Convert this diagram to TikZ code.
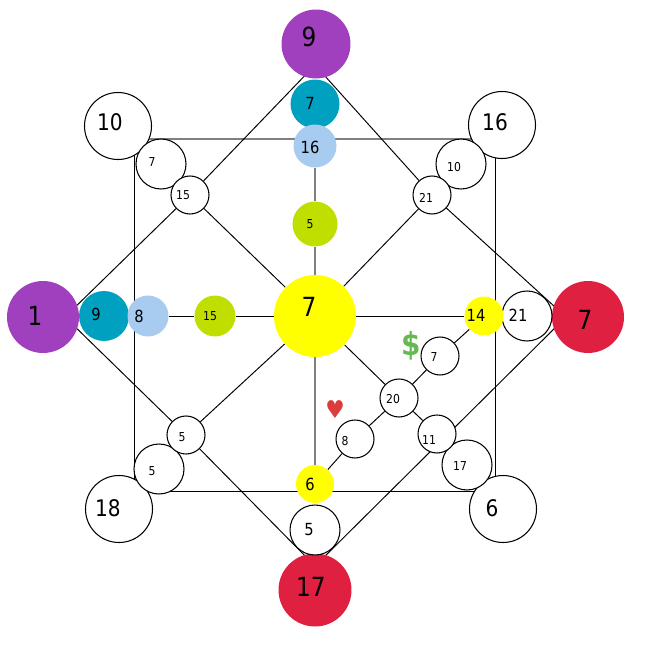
\documentclass[tikz,border=0pt]{standalone}
\usepackage{fontspec}
\setmainfont[FakeStretch=0.88]{DejaVu Sans}
\usetikzlibrary{backgrounds}
\definecolor{ppurple}{RGB}{160,64,190}
\definecolor{rred}{RGB}{224,32,64}
\definecolor{tteal}{RGB}{0,160,192}
\definecolor{lblue}{RGB}{168,203,240}
\definecolor{lgreen}{RGB}{192,223,0}
\definecolor{yy}{RGB}{255,255,0}
\definecolor{dgreen}{RGB}{100,185,80}
\definecolor{hred}{RGB}{220,60,60}
\newcommand{\fa}{\fontsize{15}{15}\selectfont}
\newcommand{\fb}{\fontsize{13}{13}\selectfont}
\newcommand{\fc}{\fontsize{9.5}{10}\selectfont}
\newcommand{\fd}{\fontsize{7}{8}\selectfont}

\begin{document}
\begin{tikzpicture}[
  x=0.02cm,y=-0.02cm,
  wnode/.style={circle,draw,line width=0.6pt,fill=white,inner sep=0pt,minimum size=#1*0.02cm},
  cnode/.style={circle,fill=#1,inner sep=0pt},
  lab/.style n args={4}{label={[xshift=#1*0.02cm,yshift=-#2*0.02cm,font=#3]center:#4}},
  gline/.style={line width=0.6pt,gray},
  bline/.style={line width=0.55pt,black}
]
  \useasboundingbox (0,0) rectangle (670,672);

  % === Outer ring ===
  \node[cnode=ppurple,minimum size=1.38cm,lab={-7}{-7}{\fa}{9}] (ptop) at (316,44) {};
  \node[cnode=ppurple,minimum size=1.44cm,lab={-8}{-1}{\fa}{1}] (pleft) at (43,317) {};
  \node[cnode=rred,minimum size=1.44cm,lab={-3}{3}{\fa}{7}] (rright) at (588,317) {};
  \node[cnode=rred,minimum size=1.46cm,lab={-4}{-3}{\fa}{17}] (rbot) at (315,590) {};

  \node[wnode=67,lab={-8}{-4}{\fb}{10}] (c10) at (118,126) {};
  \node[wnode=67,lab={-7}{-3}{\fb}{16}] (c16) at (502,125) {};
  \node[wnode=67,lab={-11}{-1}{\fb}{18}] (c18) at (119,509) {};
  \node[wnode=67,lab={-11}{-1}{\fb}{6}] (c6) at (503,509) {};

  % === Second ring ===
  \node[cnode=tteal,minimum size=0.98cm,lab={-5}{-1}{\fc}{7}] (ttop) at (315,104) {};
  \node[cnode=tteal,minimum size=1cm,lab={-8}{-2}{\fc}{9}] (tleft) at (104,316) {};
  \node[wnode=50,lab={-9}{-1}{\fc}{21}] (w21) at (527,316) {};
  \node[wnode=50,lab={-6}{0}{\fc}{5}] (w5) at (315,530) {};
  \node[wnode=50,lab={-9}{-2}{\fd}{7}] (s7) at (161,164) {};
  \node[wnode=50,lab={-7}{3}{\fd}{10}] (s10) at (461,164) {};
  \node[wnode=50,lab={-7}{2}{\fd}{5}] (s5) at (159,469) {};
  \node[wnode=50,lab={-7}{1}{\fd}{17}] (s17) at (467,465) {};

  % === Inner nodes ===
  \node[cnode=lblue,minimum size=0.86cm,lab={-5}{1}{\fc}{16}] (btop) at (315,146) {};
  \node[cnode=lblue,minimum size=0.82cm,lab={-9}{0}{\fc}{8}] (bleft) at (148,316) {};
  \node[cnode=lgreen,minimum size=0.9cm,lab={-5}{0}{\fd}{5}] (gtop) at (315,224) {};
  \node[cnode=lgreen,minimum size=0.82cm,lab={-5}{0}{\fd}{15}] (gleft) at (215,316) {};
  \node[cnode=yy,minimum size=1.64cm,lab={-6}{-9}{\fa}{7}] (mid) at (315,316) {};
  \node[cnode=yy,minimum size=0.78cm,lab={-8}{-1}{\fc}{14}] (yright) at (484,316) {};
  \node[cnode=yy,minimum size=0.76cm,lab={-5}{0}{\fc}{6}] (ybot) at (315,484) {};

  \node[wnode=38,lab={-7}{0}{\fd}{15}] (d15) at (190,195) {};
  \node[wnode=38,lab={-6}{3}{\fd}{21}] (d21) at (432,195) {};
  \node[wnode=38,lab={-4}{2}{\fd}{5}] (d5) at (186,435) {};
  \node[wnode=38,lab={-8}{6}{\fd}{11}] (d11) at (437,434) {};
  \node[wnode=38,lab={-6}{1}{\fd}{7}] (e7) at (440,356) {};
  \node[wnode=38,lab={-6}{1}{\fd}{20}] (e20) at (399,398) {};
  \node[wnode=38,lab={-10}{2}{\fd}{8}] (e8) at (355,439) {};

  % === Symbols ===
  \node[text=dgreen,font=\fontsize{18}{18}\selectfont\bfseries,inner sep=0pt] (dollar) at (411,346) {\$};
  \node[text=hred,font=\fontsize{14}{14}\selectfont,inner sep=0pt] (heart) at (335,410) {♥};

  % === Connectors ===
  \coordinate (at) at (315,65);
  \coordinate (ar) at (566,317);
  \coordinate (ab) at (315,566);
  \coordinate (al) at (65,317);
  \coordinate (sqa) at (134,139);
  \coordinate (sqb) at (495,139);
  \coordinate (sqc) at (495,491);
  \coordinate (sqd) at (134,491);

  \begin{scope}[on background layer]
    \draw[bline] (sqa) -- (sqd) -- (sqc) -- (sqb);
    \draw[gline] (sqa) -- (sqb);
    \draw[gline] (btop) -- (gtop) -- (mid);
    \draw[bline] (gleft) -- (mid) -- (yright);
    \draw[bline] (bleft) -- (gleft);
    \draw[gline] (mid) -- (ybot);
    \draw[bline] (at) -- (d15) -- (al) -- (d5) -- (ab);
    \draw[bline] (at) -- (d21) -- (ar) -- (ab);
    \draw[bline] (d15) -- (mid) -- (d21);
    \draw[bline] (d5) -- (mid) -- (e20) -- (d11);
    \draw[bline] (yright) -- (e7) -- (e20) -- (e8) -- (ybot);
  \end{scope}
\end{tikzpicture}
\end{document}
